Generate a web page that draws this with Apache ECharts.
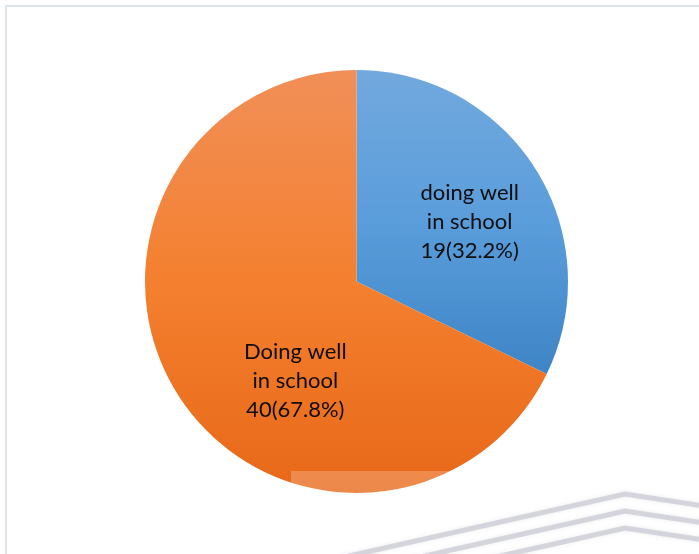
<!DOCTYPE html>
<html>
<head>
<meta charset="utf-8">
<style>
  html, body { margin: 0; padding: 0; background: #ffffff; }
  #chart { width: 699px; height: 554px; }
</style>
<script src="https://cdn.jsdelivr.net/npm/echarts@6/dist/echarts.min.js"></script>
</head>
<body>
<div id="chart"></div>
<script>
// Slice names and counts
const categories = ['doing well\nin school', 'Doing well\nin school'];
const counts = [19, 40];

// Slice fills: vertical gradients, lighter at the top
const sliceStops = [
  [['#72a9de', 0], ['#5a9ddb', 0.5], ['#3e85c6', 1]],
  [['#f18f58', 0], ['#f4802f', 0.5], ['#e76818', 1]]
];

// Label nudges from the default inside position
const labelShift = [[21, -2], [31, 42]];

const chart = echarts.init(document.getElementById('chart'), null, { renderer: 'canvas' });

function gradient(stops) {
  return new echarts.graphic.LinearGradient(0, 0, 0, 1,
    stops.map(s => ({ color: s[0], offset: s[1] })));
}

chart.setOption({
  animation: false,
  backgroundColor: '#ffffff',
  graphic: [
    // outer frame
    {
      type: 'rect', z: 0,
      shape: { x: 6, y: 6, width: 720, height: 580 },
      style: { fill: 'none', stroke: '#dfe4eb', lineWidth: 2 }
    },
    // pale band across the lower part
    {
      type: 'rect', z: 100,
      shape: { x: 291, y: 471, width: 170, height: 30 },
      style: { fill: 'rgba(255,255,255,0.22)' }
    },
    // grey chevron strokes
    ...[0, 17, 34].map(off => ({
      type: 'polyline', z: 100,
      shape: { points: [[340, 558 + off], [625, 494 + off], [710, 507 + off]] },
      style: { fill: 'none', stroke: 'rgba(200,200,210,0.7)', lineWidth: 5,
               shadowBlur: 4, shadowColor: 'rgba(200,200,210,0.5)' }
    }))
  ],
  series: [{
    type: 'pie',
    center: [356.5, 281.5],
    radius: 211.5,
    startAngle: 90,
    clockwise: true,
    percentPrecision: 1,
    silent: true,
    itemStyle: { borderWidth: 0 },
    label: {
      show: true,
      position: 'inside',
      formatter: '{b}\n{c}({d}%)',
      fontFamily: 'Lato',
      fontSize: 22,
      lineHeight: 29,
      color: '#0d0d0d',
      align: 'center'
    },
    labelLine: { show: false },
    labelLayout: p => ({ dx: labelShift[p.dataIndex][0], dy: labelShift[p.dataIndex][1] }),
    data: categories.map((name, i) => ({
      name,
      value: counts[i],
      itemStyle: { color: gradient(sliceStops[i]) }
    }))
  }]
});
</script>
</body>
</html>
